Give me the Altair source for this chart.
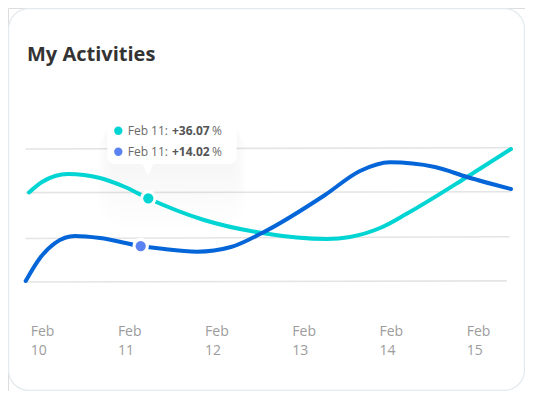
import altair as alt
import pandas as pd

# ---- data ----
label_days = [10, 11, 12, 13, 14, 15]
label_month = ["Feb", "Feb", "Feb", "Feb", "Feb", "Feb"]
label_daynum = ["10", "11", "12", "13", "14", "15"]

cyan_day = [9.9805, 10.1296, 10.4278, 10.7947, 11.0814, 11.3452, 11.9874, 12.6525,
            13.3979, 13.6617, 14.0057, 14.3268, 15.0034, 15.5080]
cyan_val = [40.38, 45.11, 48.72, 46.92, 42.86, 37.76, 27.97, 22.11,
            19.40, 20.30, 24.36, 31.13, 47.37, 60.00]

blue_day = [9.9427, 10.1067, 10.2787, 10.5080, 10.7947, 11.2615, 11.4828, 11.9071,
            12.2970, 12.6525, 13.3750, 13.7764, 14.1204, 14.6365, 15.0034, 15.5080]
blue_val = [0.45, 10.83, 17.59, 20.75, 19.85, 16.24, 15.11, 13.67,
            15.79, 22.11, 39.25, 50.08, 54.00, 51.88, 47.37, 41.95]

grid_left = [0.0, 19.6, 40.3, 60.0]
grid_right = [0.5, 20.4, 40.7, 60.6]
grid_start = [9.94, 9.94, 9.94, 9.94]
grid_end = [15.46, 15.49, 15.51, 15.52]

marker_day = [11.3486, 11.2615]
marker_val = [37.76, 16.24]
marker_color = ["#00D5D3", "#5B82F3"]

tip_label = ["Feb 11:", "Feb 11:"]
tip_value = ["+36.07", "+14.02"]
tip_unit = ["%", "%"]
tip_color = ["#00D5D3", "#5B82F3"]

CYAN = "#00D5D3"
BLUE = "#0465D8"
FONT = "Open Sans"

xs = alt.Scale(domain=[9.7397, 15.6686], nice=False, zero=False)
ys = alt.Scale(domain=[-49.17, 123.61], nice=False, zero=False)

one = pd.DataFrame({"a": [0]})

card = alt.Chart(one).mark_rect(
    fill="white", stroke="#E3EAEE", strokeWidth=1.2, cornerRadius=20
).encode(x=alt.value(0.6), x2=alt.value(516.4), y=alt.value(0.6), y2=alt.value(382.4))

grid_df = pd.DataFrame({"x1": grid_start, "x2": grid_end, "y1": grid_left, "y2": grid_right})
grid = alt.Chart(grid_df).mark_rule(color="#E4E4E4", strokeWidth=1.6).encode(
    x=alt.X("x1:Q", scale=xs, axis=None), x2="x2:Q",
    y=alt.Y("y1:Q", scale=ys, axis=None), y2="y2:Q")

# soft shadow of the tooltip (mostly below it)
shadow_layers = []
for i in range(1, 9):
    shadow_layers.append(alt.Chart(one).mark_rect(
        fill="#5a6470", opacity=0.008, cornerRadius=6 + 3 * i
    ).encode(x=alt.value(102 - 1.5 * i), x2=alt.value(226 + 1.5 * i),
             y=alt.value(108 + 1 * i), y2=alt.value(156 + 8 * i)))

cyan_df = pd.DataFrame({"day": cyan_day, "val": cyan_val})
blue_df = pd.DataFrame({"day": blue_day, "val": blue_val})

line_c = alt.Chart(cyan_df).mark_line(
    color=CYAN, strokeWidth=4, strokeCap="round", interpolate="monotone"
).encode(x=alt.X("day:Q", scale=xs, axis=None), y=alt.Y("val:Q", scale=ys, axis=None))
line_b = alt.Chart(blue_df).mark_line(
    color=BLUE, strokeWidth=4, strokeCap="round", interpolate="monotone"
).encode(x=alt.X("day:Q", scale=xs, axis=None), y=alt.Y("val:Q", scale=ys, axis=None))

mk_df = pd.DataFrame({"day": marker_day, "val": marker_val, "c": marker_color})
ring = alt.Chart(mk_df).mark_point(
    shape="circle", filled=True, fill="white", opacity=1, size=270, strokeWidth=0
).encode(x=alt.X("day:Q", scale=xs, axis=None), y=alt.Y("val:Q", scale=ys, axis=None))
dots = alt.Chart(mk_df).mark_point(
    shape="circle", filled=True, opacity=1, size=105, strokeWidth=0
).encode(x=alt.X("day:Q", scale=xs, axis=None), y=alt.Y("val:Q", scale=ys, axis=None),
         color=alt.Color("c:N", scale=None))

tip_box = alt.Chart(one).mark_rect(fill="white", cornerRadius=7).encode(
    x=alt.value(99.3), x2=alt.value(228.7), y=alt.value(105.3), y2=alt.value(156))
tip_ptr = alt.Chart(one).mark_point(
    shape="M-1,-1L1,-1L0,1Z", filled=True, fill="white", opacity=1, size=150, strokeWidth=0
).encode(x=alt.value(140), y=alt.value(161))

tip_df = pd.DataFrame({"lab": tip_label, "val": tip_value, "unit": tip_unit,
                       "c": tip_color, "row": [0, 1]})
tip_y = alt.Y("row:Q", scale=alt.Scale(domain=[0, 1], range=[122.7, 143.7]), axis=None)
tip_dots = alt.Chart(tip_df).mark_point(
    shape="circle", filled=True, opacity=1, size=70, strokeWidth=0
).encode(x=alt.value(110.3), y=tip_y, color=alt.Color("c:N", scale=None))
tip_lab = alt.Chart(tip_df).mark_text(
    align="left", baseline="middle", font=FONT, fontSize=12, color="#6A6A6A"
).encode(x=alt.value(119.7), y=tip_y, text="lab:N")
tip_val = alt.Chart(tip_df).mark_text(
    align="left", baseline="middle", font=FONT, fontSize=12, fontWeight="bold", color="#555555"
).encode(x=alt.value(164), y=tip_y, text="val:N")
tip_unit_t = alt.Chart(tip_df).mark_text(
    align="left", baseline="middle", font=FONT, fontSize=12, color="#6A6A6A"
).encode(x=alt.value(204), y=tip_y, text="unit:N")

tips = alt.layer(tip_dots, tip_lab, tip_val, tip_unit_t).resolve_scale(y="independent")

lab_df = pd.DataFrame({"day": label_days, "m": label_month, "d": label_daynum})
lab_m = alt.Chart(lab_df).mark_text(
    align="left", baseline="alphabetic", font=FONT, fontSize=14, color="#9C9C9C"
).encode(x=alt.X("day:Q", scale=xs, axis=None), y=alt.value(327.5), text="m:N")
lab_d = alt.Chart(lab_df).mark_text(
    align="left", baseline="alphabetic", font=FONT, fontSize=14, color="#9C9C9C"
).encode(x=alt.X("day:Q", scale=xs, axis=None), y=alt.value(346.5), text="d:N")

title = alt.Chart(one).mark_text(
    text="My Activities", align="left", baseline="alphabetic", font=FONT,
    fontSize=20, fontWeight="bold", color="#333333"
).encode(x=alt.value(19), y=alt.value(52.7))

chart = alt.layer(
    card, grid, *shadow_layers, line_c, line_b, ring, dots,
    tip_box, tip_ptr, tip_dots, tip_lab, tip_val, tip_unit_t,
    lab_m, lab_d, title
).resolve_scale(y="independent").properties(
    width=517, height=383, autosize=alt.AutoSizeParams(type="none"), padding=0
).configure_view(stroke=None).configure(background="white")

chart.save("out.html", embed_options={"renderer": "svg", "actions": False})
